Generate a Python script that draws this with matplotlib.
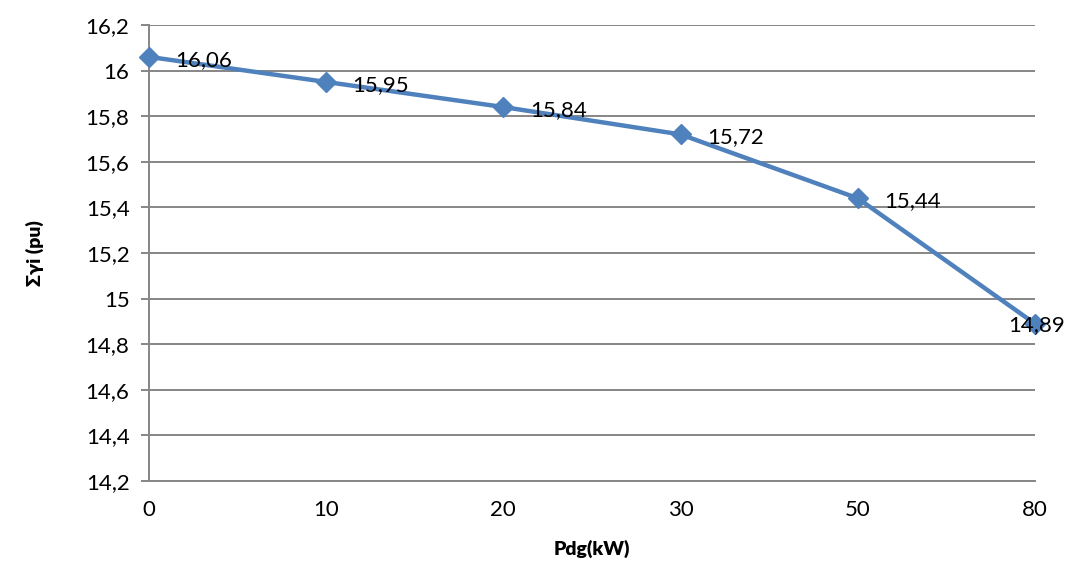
import matplotlib.pyplot as plt
import numpy as np

# dados
pdg = ['0', '10', '20', '30', '50', '80']
soma_gamma = [16.06, 15.95, 15.84, 15.72, 15.44, 14.89]
y_ticks = [14.2, 14.4, 14.6, 14.8, 15.0, 15.2, 15.4, 15.6, 15.8, 16.0, 16.2]

plt.rcParams['font.family'] = ['Lato', 'DejaVu Sans']

fig = plt.figure(figsize=(10.68, 5.67), dpi=100)
ax = fig.add_axes([0.1395, 0.1517, 0.8295, 0.8043])

x = np.arange(len(pdg))
ax.plot(x, soma_gamma, color='#4F81BD', lw=3.2, marker='D', ms=10,
        solid_joinstyle='round', zorder=3, clip_on=False)

for i, v in enumerate(soma_gamma):
    txt = f'{v:.2f}'.replace('.', ',')
    if i == len(soma_gamma) - 1:
        ax.annotate(txt, (x[i], v), xytext=(-19, -1), textcoords='offset points',
                    ha='left', va='center', fontsize=16, annotation_clip=False, zorder=4)
    else:
        ax.annotate(txt, (x[i], v), xytext=(19, -2), textcoords='offset points',
                    ha='left', va='center', fontsize=16, zorder=4)

ax.set_xlim(0, len(pdg) - 1)
ax.set_ylim(14.2, 16.2)
ax.set_xticks(x)
ax.set_xticklabels(pdg, fontsize=16)
ax.set_yticks(y_ticks)
ax.set_yticklabels([('%g' % t).replace('.', ',') for t in y_ticks], fontsize=16)

ax.grid(axis='y', color='#868686', lw=1.4)
ax.set_axisbelow(True)
for s in ['top', 'right']:
    ax.spines[s].set_visible(False)
ax.spines['left'].set_color('#868686')
ax.spines['bottom'].set_color('#868686')
ax.spines['left'].set_linewidth(1.4)
ax.spines['bottom'].set_linewidth(1.4)
ax.tick_params(axis='y', length=6, color='#868686', width=1.4, pad=8)
ax.tick_params(axis='x', length=0, pad=14)

ax.set_xlabel('Pdg(kW)', fontsize=14, fontweight='heavy', labelpad=14)
ax.set_ylabel('Σγi (pu)', fontsize=14, fontweight='heavy', labelpad=30)

plt.savefig('out.png', dpi=100)
